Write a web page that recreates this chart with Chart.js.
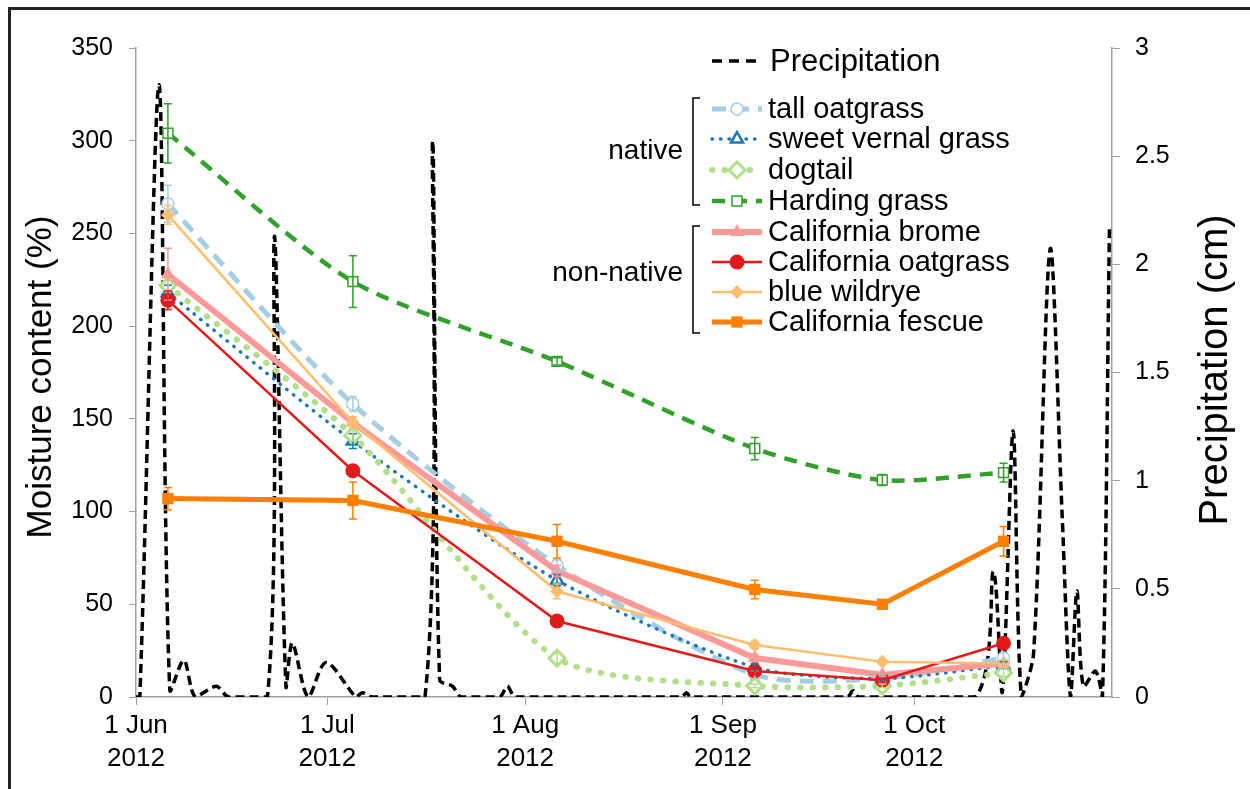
<!DOCTYPE html>
<html>
<head>
<meta charset="utf-8">
<script src="https://cdn.jsdelivr.net/npm/chart.js@4.4.1/dist/chart.umd.min.js"></script>
<style>
  html, body { margin: 0; padding: 0; background: #fff; }
  #wrap { position: relative; width: 1250px; height: 789px; overflow: hidden; }
  #moistureChart { position: absolute; left: 0; top: 0; width: 1250px; height: 789px; }
  #frame { position: absolute; left: 8px; top: 7px; right: -10px; bottom: -10px;
           border-top: 3px solid #222; border-left: 3px solid #222; pointer-events: none; }
</style>
</head>
<body>
<div id="wrap">
  <canvas id="moistureChart" width="1250" height="789"></canvas>
  <div id="frame"></div>
</div>
<script>
// Sampling dates, days after 1 Jun 2012
const sampleDays = [5, 34, 66, 97, 117, 136];

// x axis ticks (days after 1 Jun 2012)
const xTickDays = [0, 30, 61, 92, 122];
const xTickLabels = [["1 Jun", "2012"], ["1 Jul", "2012"], ["1 Aug", "2012"], ["1 Sep", "2012"], ["1 Oct", "2012"]];

// Moisture content (%) and error bars
const tallOatgrass     = [266, 158, 71, 12, 10, 21];
const tallOatgrassErr  = [10, 4, 3, 2, 2, 3];
const sweetVernal      = [218, 138, 63, 16, 10, 17];
const sweetVernalErr   = [4, 4, 3, 2, 1, 2];
const dogtail          = [222, 141, 21, 6, 6, 13];
const dogtailErr       = [3, 3, 3, 1, 1, 2];
const hardingGrass     = [304, 224, 181, 134, 117, 121];
const hardingGrassErr  = [16, 14, 2, 6, 3, 5];
const calBrome         = [228, 148, 68, 21, 12, 18];
const calBromeErr      = [14, 3, 3, 2, 1, 2];
const calOatgrass      = [214, 122, 41, 14, 9, 29];
const calOatgrassErr   = [5, 3, 2, 2, 1, 2];
const blueWildrye      = [260, 148, 57, 28, 19, 18];
const blueWildryeErr   = [5, 3, 4, 2, 1, 2];
const calFescue        = [107, 106, 84, 58, 50, 84];
const calFescueErr     = [6, 10, 9, 5, 2, 8];

// Precipitation (cm)
const precipDays = [0, 0.6, 3.6, 5.3, 7.5, 9.3, 12.6, 14.5, 20.6, 21.7, 23.5, 24.5, 27, 29.8, 34.5, 35.5, 37,
                    45.3, 46.5, 47.6, 49.6, 51, 57, 58.2, 59.5, 85.5, 86.3, 87, 111.5, 112.4, 113.3,
                    131.5, 134.4, 135.8, 137.5, 138.8, 140.7, 143.3, 145.2, 146.5, 147.5, 148.5, 150.4, 151.5, 152.6];
const precipCm   = [0, 0, 2.83, 0.03, 0.17, 0, 0.05, 0, 0, 2.13, 0.05, 0.25, 0, 0.16, 0, 0.02, 0,
                    0, 2.57, 0.08, 0.05, 0, 0, 0.05, 0, 0, 0.02, 0, 0, 0.03, 0,
                    0, 0.58, 0.02, 1.23, 0, 0.2, 2.07, 0.83, 0, 0.49, 0.05, 0.12, 0, 2.17];

function pts(values) {
    return sampleDays.map((d, i) => ({ x: d, y: values[i] }));
}

const FONT = "'Liberation Sans', Arial, sans-serif";

const datasets = [
    { label: "tall oatgrass", data: pts(tallOatgrass), errors: tallOatgrassErr,
      borderColor: "#a6cee3", borderWidth: 5, borderDash: [14, 9], tension: 0.25,
      pointStyle: "circle", pointRadius: 6, pointBackgroundColor: "#fff", pointBorderWidth: 1.5, order: 8 },
    { label: "sweet vernal grass", data: pts(sweetVernal), errors: sweetVernalErr,
      borderColor: "#1f78b4", borderWidth: 3.5, borderDash: [0.5, 8], borderCapStyle: "round", tension: 0.25,
      pointStyle: "triangle", pointRadius: 7, pointBackgroundColor: "#fff", pointBorderWidth: 2.5, order: 7 },
    { label: "dogtail", data: pts(dogtail), errors: dogtailErr,
      borderColor: "#b2df8a", borderWidth: 6, borderDash: [0.5, 12], borderCapStyle: "round", tension: 0.25,
      pointStyle: "rectRot", pointRadius: 8, pointBackgroundColor: "#fff", pointBorderWidth: 3, order: 6 },
    { label: "Harding grass", data: pts(hardingGrass), errors: hardingGrassErr,
      borderColor: "#33a02c", borderWidth: 4.5, borderDash: [13, 9], tension: 0.25,
      pointStyle: "rect", pointRadius: 7, pointBackgroundColor: "#fff", pointBorderWidth: 1.5, order: 5 },
    { label: "California brome", data: pts(calBrome), errors: calBromeErr,
      borderColor: "#fb9a99", borderWidth: 6, tension: 0,
      pointStyle: "triangle", pointRadius: 8, pointBackgroundColor: "#fb9a99", pointBorderWidth: 0, order: 4 },
    { label: "California oatgrass", data: pts(calOatgrass), errors: calOatgrassErr,
      borderColor: "#e31a1c", borderWidth: 2.5, tension: 0,
      pointStyle: "circle", pointRadius: 7.5, pointBackgroundColor: "#e31a1c", pointBorderWidth: 0, order: 3 },
    { label: "blue wildrye", data: pts(blueWildrye), errors: blueWildryeErr,
      borderColor: "#fdbf6f", borderWidth: 2.5, tension: 0,
      pointStyle: "rectRot", pointRadius: 7, pointBackgroundColor: "#fdbf6f", pointBorderWidth: 0, order: 2 },
    { label: "California fescue", data: pts(calFescue), errors: calFescueErr,
      borderColor: "#ff7f00", borderWidth: 5, tension: 0,
      pointStyle: "rect", pointRadius: 8, pointBackgroundColor: "#ff7f00", pointBorderWidth: 0, order: 1 },
    { label: "Precipitation", yAxisID: "y2", data: precipDays.map((d, i) => ({ x: d, y: precipCm[i] })),
      borderColor: "#000", borderWidth: 3.5, borderDash: [9, 5], tension: 0.3, pointRadius: 0, order: 100 }
];
datasets.forEach(ds => { ds.pointBorderColor = ds.borderColor; ds.fill = false; });

// Fehlerbalken
const errorBarPlugin = {
    id: "errorBars",
    afterDatasetsDraw(chart) {
        const ctx = chart.ctx;
        const y = chart.scales.y;
        chart.data.datasets.forEach((ds, i) => {
            if (!ds.errors) return;
            const meta = chart.getDatasetMeta(i);
            ctx.save();
            ctx.strokeStyle = ds.borderColor;
            ctx.lineWidth = 1.5;
            ctx.setLineDash([]);
            meta.data.forEach((pt, j) => {
                const v = ds.data[j].y, e = ds.errors[j];
                const top = y.getPixelForValue(v + e), bot = y.getPixelForValue(v - e);
                ctx.beginPath();
                ctx.moveTo(pt.x, top); ctx.lineTo(pt.x, bot);
                ctx.moveTo(pt.x - 4, top); ctx.lineTo(pt.x + 4, top);
                ctx.moveTo(pt.x - 4, bot); ctx.lineTo(pt.x + 4, bot);
                ctx.stroke();
            });
            ctx.restore();
        });
    }
};

// Legende mit Klammern und Achsentitel
const legendPlugin = {
    id: "customLegend",
    afterDraw(chart) {
        const ctx = chart.ctx;
        const x0 = 712, x1 = 762, tx = 768;
        const rows = [
            { ds: 8, y: 61 },
            { ds: 0, y: 109 }, { ds: 1, y: 139 }, { ds: 2, y: 170 }, { ds: 3, y: 201 },
            { ds: 4, y: 232 }, { ds: 5, y: 262 }, { ds: 6, y: 292 }, { ds: 7, y: 322 }
        ];
        ctx.save();
        rows.forEach(r => {
            const ds = chart.data.datasets[r.ds];
            const isPrecip = r.ds === 8;
            ctx.save();
            ctx.strokeStyle = ds.borderColor;
            ctx.lineWidth = ds.borderWidth;
            ctx.lineCap = ds.borderCapStyle || "butt";
            ctx.setLineDash(isPrecip ? [10, 7] : (ds.borderDash || []));
            ctx.beginPath();
            ctx.moveTo(x0, r.y); ctx.lineTo(x1, r.y);
            ctx.stroke();
            ctx.restore();
            if (ds.pointRadius) {
                ctx.save();
                ctx.fillStyle = ds.pointBackgroundColor;
                ctx.strokeStyle = ds.borderColor;
                ctx.lineWidth = ds.pointBorderWidth;
                Chart.helpers.drawPoint(ctx, {
                    pointStyle: ds.pointStyle, radius: ds.pointRadius,
                    borderWidth: ds.pointBorderWidth, rotation: 0
                }, (x0 + x1) / 2, r.y);
                ctx.restore();
            }
            ctx.fillStyle = "#000";
            ctx.font = (isPrecip ? "31px " : "29px ") + FONT;
            ctx.textAlign = "left";
            ctx.textBaseline = "middle";
            ctx.fillText(ds.label, isPrecip ? tx + 2 : tx, r.y + 1);
        });

        // Klammern
        ctx.strokeStyle = "#000";
        ctx.lineWidth = 1.5;
        [[98, 205], [226, 333]].forEach(([a, b]) => {
            ctx.beginPath();
            ctx.moveTo(700, a); ctx.lineTo(693, a); ctx.lineTo(693, b); ctx.lineTo(700, b);
            ctx.stroke();
        });
        ctx.fillStyle = "#000";
        ctx.textBaseline = "middle";
        ctx.font = "28px " + FONT;
        ctx.textAlign = "right";
        ctx.fillText("native", 683, 151);
        ctx.fillText("non-native", 683, 273);

        // Achsentitel
        ctx.textAlign = "center";
        ctx.font = "35px " + FONT;
        ctx.save();
        ctx.translate(41, 377);
        ctx.rotate(-Math.PI / 2);
        ctx.fillText("Moisture content (%)", 0, 0);
        ctx.restore();
        ctx.font = "40px " + FONT;
        ctx.save();
        ctx.translate(1216, 370);
        ctx.rotate(-Math.PI / 2);
        ctx.fillText("Precipitation (cm)", 0, 0);
        ctx.restore();
        ctx.restore();
    }
};

const axisGrey = "#a0a0a0";

document.addEventListener("DOMContentLoaded", function() {
    const ctx = document.getElementById("moistureChart").getContext("2d");
    new Chart(ctx, {
        type: "line",
        data: { datasets: datasets },
        plugins: [errorBarPlugin, legendPlugin],
        options: {
            responsive: false,
            animation: false,
            devicePixelRatio: 1,
            layout: { padding: { top: 48, left: 0, right: 0, bottom: 0 } },
            plugins: { legend: { display: false }, tooltip: { enabled: false } },
            scales: {
                x: {
                    type: "linear", min: 0, max: 153,
                    afterBuildTicks: scale => { scale.ticks = xTickDays.map(v => ({ value: v })); },
                    afterFit: scale => { scale.height = 92; },
                    grid: { display: true, drawOnChartArea: false, drawTicks: true, tickLength: 8, color: axisGrey },
                    border: { color: axisGrey, width: 1.5 },
                    ticks: {
                        color: "#000", padding: 5, maxRotation: 0, autoSkip: false,
                        font: { family: FONT, size: 26, lineHeight: 1.25 },
                        callback: value => xTickLabels[xTickDays.indexOf(value)]
                    }
                },
                y: {
                    position: "left", min: 0, max: 350,
                    afterFit: scale => { scale.width = 136; },
                    grid: { display: true, drawOnChartArea: false, drawTicks: true, tickLength: 7, color: axisGrey },
                    border: { color: axisGrey, width: 1.5 },
                    ticks: { stepSize: 50, color: "#000", padding: 16, font: { family: FONT, size: 25 } }
                },
                y2: {
                    position: "right", min: 0, max: 3,
                    afterFit: scale => { scale.width = 138; },
                    grid: { display: true, drawOnChartArea: false, drawTicks: true, tickLength: 8, color: axisGrey },
                    border: { color: axisGrey, width: 1.5 },
                    ticks: { stepSize: 0.5, color: "#000", padding: 15, font: { family: FONT, size: 25 },
                             callback: value => String(value) }
                }
            }
        }
    });
});
</script>
</body>
</html>
